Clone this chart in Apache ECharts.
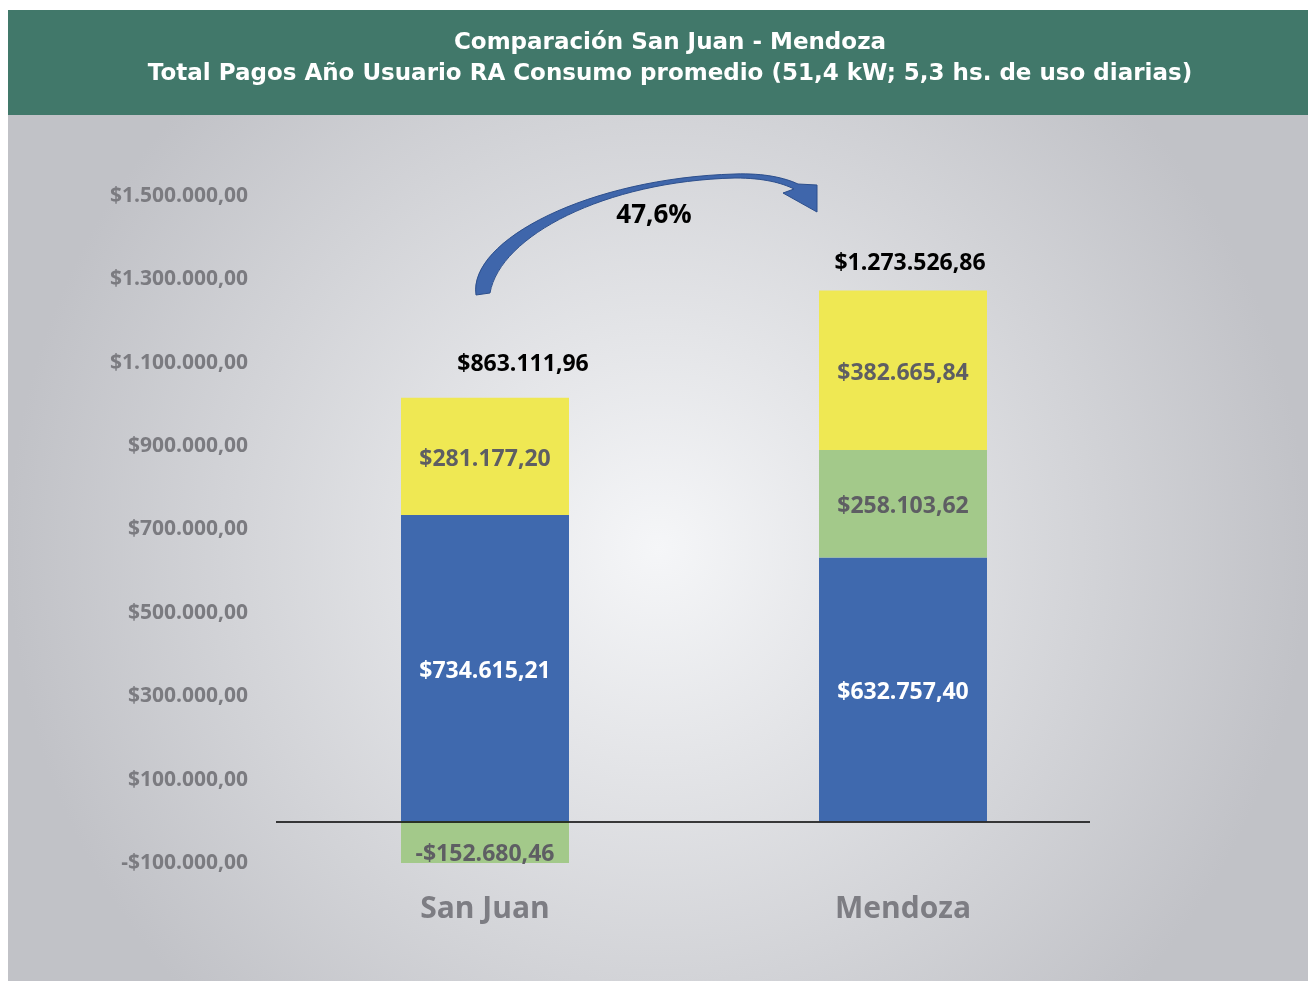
<!DOCTYPE html>
<html>
<head>
<meta charset="utf-8">
<script src="https://cdn.jsdelivr.net/npm/echarts@6/dist/echarts.min.js"></script>
<style>
  html, body { margin: 0; padding: 0; background: #fff; }
  #chart { width: 1308px; height: 981px; }
</style>
</head>
<body>
<div id="chart"></div>
<script>
"use strict";

const categories = ["San Juan", "Mendoza"];
const consumo = [734615.21, 632757.40];      // blue
const cargos = [-152680.46, 258103.62];      // green
const impuestos = [281177.20, 382665.84];    // yellow
const totales = [863111.96, 1273526.86];
const variacion = "47,6%";

const titleLines = [
  "Comparación San Juan - Mendoza",
  "Total Pagos Año Usuario RA Consumo promedio (51,4 kW; 5,3 hs. de uso diarias)"
];

const FONT = "'Open Sans', 'Noto Sans', sans-serif";

/** @param {number} v */
const money = (v) => {
  const neg = v < 0;
  const [int, dec] = Math.abs(v).toFixed(2).split(".");
  const grouped = int.replace(/\B(?=(\d{3})+(?!\d))/g, ".");
  return (neg ? "-$" : "$") + grouped + "," + dec;
};

const chart = echarts.init(document.getElementById("chart"));

const barLabel = (color) => ({
  show: true,
  position: "inside",
  offset: [0, 3],
  color,
  fontFamily: FONT,
  fontWeight: "bold",
  fontSize: 23,
  formatter: (p) => money(p.value),
});

// curved arrow between the two totals (decoration)
const arrowPath =
  "M476,295 C468,240 590,178 735,174 C765,173 785,178 798,184 " +
  "L817,185 L817,212 L783,193 L794,189 " +
  "C782,183 764,178 735,178 C605,181 500,236 490,293 Z";

const options = {
  backgroundColor: "#ffffff",
  animation: false,

  title: {
    text: titleLines.join("\n"),
    left: 665,
    top: 23,
    textAlign: "center",
    textStyle: {
      color: "#ffffff",
      fontFamily: "'DejaVu Sans', sans-serif",
      fontWeight: "bold",
      fontSize: 23,
      lineHeight: 31,
    },
  },

  graphic: [
    {
      type: "rect",
      z: -10,
      silent: true,
      shape: { x: 8, y: 10, width: 1300, height: 105 },
      style: { fill: "#41786a" },
    },
    {
      type: "rect",
      z: -10,
      silent: true,
      shape: { x: 8, y: 115, width: 1300, height: 866 },
      style: {
        fill: new echarts.graphic.RadialGradient(0.5, 0.5, 0.75, [
          { offset: 0, color: "#f5f6f8" },
          { offset: 1, color: "#c1c2c7" },
        ]),
      },
    },
    {
      type: "text",
      z: 10,
      silent: true,
      x: 654,
      y: 216,
      style: {
        text: variacion,
        align: "center",
        verticalAlign: "middle",
        fill: "#000",
        fontFamily: FONT,
        fontWeight: "bold",
        fontSize: 26,
      },
    },
  ],

  grid: {
    left: 276,
    width: 836,
    top: 196,
    bottom: 118,
    containLabel: false,
  },

  xAxis: {
    type: "category",
    data: categories,
    axisLine: { show: false },
    axisTick: { show: false },
    axisLabel: {
      margin: 31,
      color: "#7d7d83",
      fontFamily: FONT,
      fontWeight: "bold",
      fontSize: 30,
    },
  },

  yAxis: {
    type: "value",
    min: -100000,
    max: 1500000,
    interval: 200000,
    splitLine: { show: false },
    axisLine: { show: false },
    axisTick: { show: false },
    axisLabel: {
      margin: 28,
      color: "#7b7b80",
      fontFamily: FONT,
      fontWeight: "bold",
      fontSize: 21,
      formatter: (v) => money(v),
    },
  },

  series: [
    {
      name: "Consumo",
      type: "bar",
      stack: "total",
      barWidth: 168,
      data: consumo,
      itemStyle: { color: "#3f69ae" },
      label: barLabel("#ffffff"),
      markLine: {
        silent: true,
        symbol: "none",
        label: { show: false },
        lineStyle: { color: "#000", width: 1.5, type: "solid" },
        // baseline at zero, ending short of the plot edge as in the original
        data: [[{ yAxis: 0, x: 276 }, { yAxis: 0, x: 1090 }]],
      },
    },
    {
      name: "Cargos",
      type: "bar",
      stack: "total",
      barWidth: 168,
      data: cargos.map((v, i) =>
        i === 0 ? { value: v, label: { offset: [0, 12] } } : v
      ),
      itemStyle: { color: "#a3c98a" },
      label: barLabel("#5e5e63"),
    },
    {
      name: "Impuestos",
      type: "bar",
      stack: "total",
      barWidth: 168,
      data: impuestos,
      itemStyle: { color: "#efe853" },
      label: barLabel("#5e5e63"),
    },
    {
      name: "Total",
      type: "bar",
      stack: "total",
      barWidth: 168,
      data: totales.map((t, i) => ({
        value: 0,
        label: { offset: i === 0 ? [38, -7] : [7, 0] },
      })),
      itemStyle: { color: "transparent" },
      label: {
        show: true,
        position: "top",
        distance: 15,
        color: "#000",
        fontFamily: FONT,
        fontWeight: "bold",
        fontSize: 23,
        formatter: (p) => money(totales[p.dataIndex]),
      },
    },
    {
      name: "Flecha",
      type: "custom",
      coordinateSystem: "none",
      silent: true,
      z: 10,
      data: [0],
      renderItem: () => ({
        type: "path",
        shape: { pathData: arrowPath },
        style: { fill: "#3f66ab", stroke: "#2d4f8c", lineWidth: 1 },
      }),
    },
  ],
};

chart.setOption(options);
</script>
</body>
</html>
